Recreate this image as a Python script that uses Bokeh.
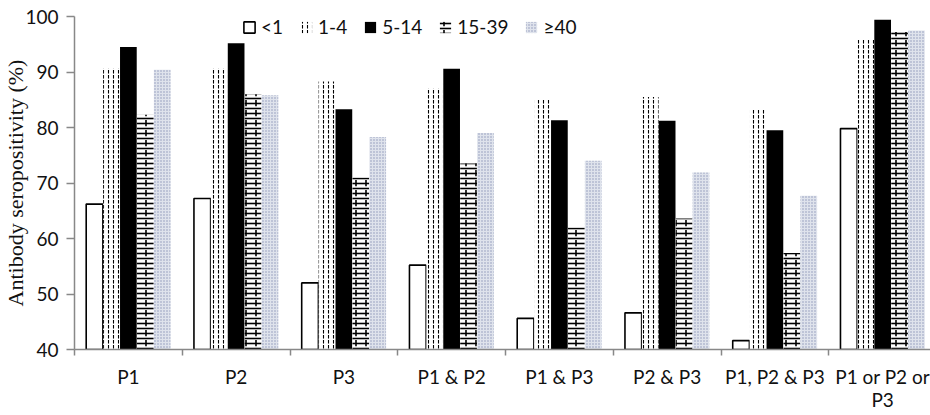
from bokeh.plotting import figure
from bokeh.models import Range1d, FixedTicker, ColumnDataSource, Legend, LegendItem
from bokeh.transform import dodge
from bokeh.embed import file_html
from bokeh.resources import INLINE

categories = ["P1", "P2", "P3", "P1 & P2", "P1 & P3", "P2 & P3", "P1, P2 & P3", "P1 or P2 or\nP3"]
groups = ["<1", "1-4", "5-14", "15-39", "\u226540"]
s_lt1 = [66.2, 67.2, 52.0, 55.2, 45.6, 46.6, 41.6, 79.8]
s_1_4 = [90.6, 90.6, 88.3, 87.0, 85.0, 85.5, 83.2, 95.8]
s_5_14 = [94.5, 95.2, 83.3, 90.6, 81.3, 81.2, 79.5, 99.4]
s_15_39 = [82.3, 86.0, 71.0, 73.5, 62.0, 63.6, 57.4, 97.2]
s_ge40 = [90.4, 85.8, 78.3, 79.0, 74.0, 71.9, 67.7, 97.5]

xc = [i + 0.5 for i in range(len(categories))]
src = ColumnDataSource(dict(x=xc, a=s_lt1, b=s_1_4, c=s_5_14, d=s_15_39, e=s_ge40))

FONT = "Lato"
p = figure(width=930, height=415, output_backend="svg", toolbar_location=None,
           x_range=Range1d(0, 7.944), y_range=Range1d(40, 100),
           min_border_left=72, min_border_top=16, min_border_right=0, min_border_bottom=66)
p.outline_line_color = None
p.grid.visible = False

W = 0.155
step = 0.157
r1 = p.vbar(x=dodge("x", -2 * step, range=p.x_range), top="a", bottom=40, width=W, source=src,
            fill_color="white", line_color="black", line_width=1.6)
r2 = p.vbar(x=dodge("x", -1 * step, range=p.x_range), top="b", bottom=40, width=W, source=src,
            fill_color="white", line_color=None, hatch_pattern="vertical_dash",
            hatch_color="black", hatch_scale=5, hatch_weight=1.1)
r3 = p.vbar(x=dodge("x", 0, range=p.x_range), top="c", bottom=40, width=W, source=src,
            fill_color="black", line_color=None)
r4a = p.vbar(x=dodge("x", step, range=p.x_range), top="d", bottom=40, width=W, source=src,
             fill_color="white", line_color=None, hatch_pattern="horizontal_line",
             hatch_color="black", hatch_scale=5, hatch_weight=1.6)
r4b = p.vbar(x=dodge("x", step, range=p.x_range), top="d", bottom=40, width=W, source=src,
             fill_color=None, line_color=None, hatch_pattern="vertical_dash",
             hatch_color="black", hatch_scale=10, hatch_weight=1.6)
r5 = p.vbar(x=dodge("x", 2 * step, range=p.x_range), top="e", bottom=40, width=W, source=src,
            fill_color="#dfe3ec", line_color=None, hatch_pattern="dot",
            hatch_color="#8b96b6", hatch_scale=3, hatch_weight=1)

# y axis
ya = p.yaxis[0]
ya.ticker = FixedTicker(ticks=[40, 50, 60, 70, 80, 90, 100])
ya.axis_line_color = "#888888"
ya.axis_line_width = 1.5
ya.major_tick_line_color = "#888888"
ya.major_tick_line_width = 1.5
ya.major_tick_out = 8
ya.major_tick_in = 0
ya.minor_tick_line_color = None
ya.major_label_standoff = 8
ya.major_label_text_font = FONT
ya.major_label_text_font_size = "19px"
ya.major_label_text_color = "#111111"
ya.axis_label = "Antibody seropositivity (%)"
ya.axis_label_standoff = -6
ya.axis_label_text_font = "Liberation Serif"
ya.axis_label_text_font_style = "normal"
ya.axis_label_text_font_size = "22px"
ya.axis_label_text_color = "#111111"

# x axis
xa = p.xaxis[0]
xa.ticker = FixedTicker(ticks=xc, minor_ticks=list(range(len(categories) + 1)))
xa.major_label_overrides = {x: c for x, c in zip(xc, categories)}
xa.axis_line_color = "#888888"
xa.axis_line_width = 1.5
xa.major_tick_line_color = None
xa.major_tick_out = 0
xa.major_tick_in = 0
xa.minor_tick_line_color = "#888888"
xa.minor_tick_line_width = 1.5
xa.minor_tick_out = 6
xa.minor_tick_in = 0
xa.major_label_standoff = 9
xa.major_label_text_font = FONT
xa.major_label_text_font_size = "19px"
xa.major_label_text_line_height = 1.0
xa.major_label_text_color = "#111111"

legend = Legend(items=[LegendItem(label=groups[0], renderers=[r1]),
                       LegendItem(label=groups[1], renderers=[r2]),
                       LegendItem(label=groups[2], renderers=[r3]),
                       LegendItem(label=groups[3], renderers=[r4a, r4b]),
                       LegendItem(label=groups[4], renderers=[r5])],
                orientation="horizontal", location=(168, 311))
legend.padding = 0
legend.margin = 0
legend.spacing = 16
legend.label_standoff = 5
legend.glyph_width = 14
legend.glyph_height = 14
legend.label_text_font = FONT
legend.label_text_font_size = "19px"
legend.label_text_color = "#111111"
legend.border_line_color = None
legend.background_fill_alpha = 0
p.add_layout(legend)

open("out.html", "w").write(file_html(p, INLINE))
